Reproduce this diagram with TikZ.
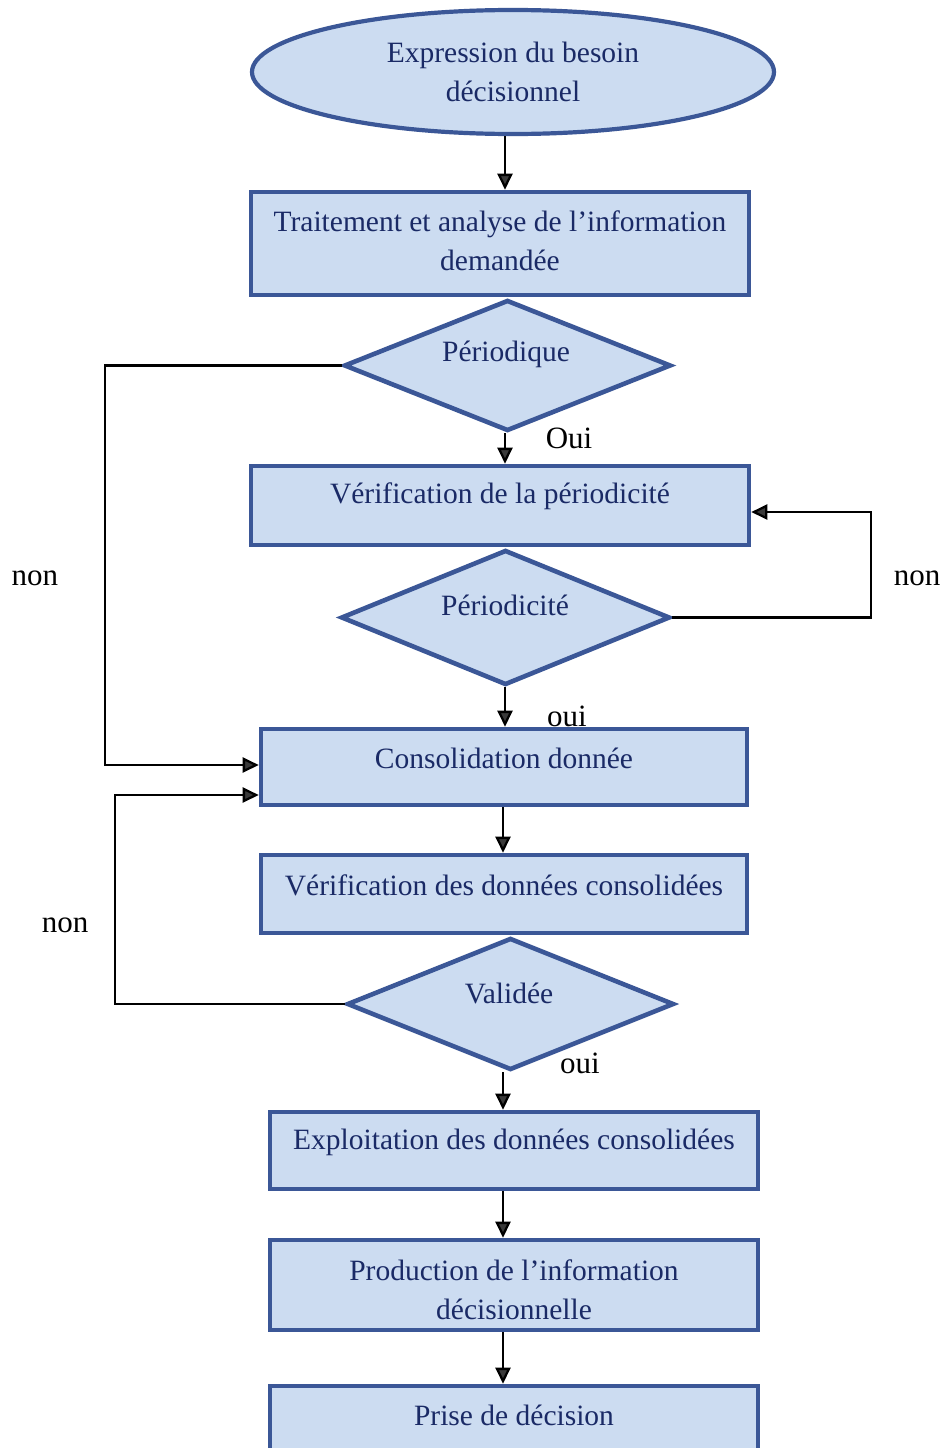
\documentclass[tikz,border=0pt]{standalone}
\usepackage{fontspec}
\setmainfont{Liberation Serif}
\usetikzlibrary{shapes.geometric,arrows.meta}
\definecolor{boxfill}{HTML}{CCDCF1}
\definecolor{boxline}{HTML}{3B5797}
\definecolor{boxtext}{HTML}{1A2A66}
\definecolor{tipgray}{HTML}{3A3A3A}
\begin{document}
\begin{tikzpicture}[x=1pt,y=-1pt,
 shapebox/.style={draw=boxline,fill=boxfill,line width=4.6pt,rectangle,inner sep=0pt},
 ovalbox/.style={draw=boxline,fill=boxfill,line width=4.2pt,ellipse,inner sep=0pt},
 decbox/.style={draw=boxline,fill=boxfill,line width=4.6pt,diamond,inner sep=0pt},
 txt/.style={text=boxtext,font=\fontsize{29.5}{39}\selectfont,align=center,inner sep=0pt},
 lbl/.style={text=black,font=\fontsize{31}{36}\selectfont,inner sep=0pt},
 arr/.style={draw=black,line width=2.3pt,-{Triangle[length=16pt,width=15pt,fill=tipgray]}}
]
\fill[white] (0,0) rectangle (945,1448);
\useasboundingbox (0,0) rectangle (945,1448);
\clip (0,0) rectangle (945,1448);

% labels (drawn first so boxes may cover them)
\node[lbl] (lOui) at (569,438) {Oui};
\node[lbl] (lnonR) at (917,578) {non};
\node[lbl] (loui2) at (567,716) {oui};
\node[lbl] (lnonL) at (35,578) {non};
\node[lbl] (lnonL2) at (65,925) {non};
\node[lbl] (loui3) at (580,1063) {oui};

% shapes
\node[ovalbox, minimum width=522pt, minimum height=124pt] (e) at (513,72) {};
\node[shapebox, minimum width=498pt, minimum height=103pt] (b1) at (500,243.5) {};
\node[decbox, minimum width=327pt, minimum height=131pt] (d1) at (507.5,365.5) {};
\node[shapebox, minimum width=498pt, minimum height=79pt] (b2) at (500,505.5) {};
\node[decbox, minimum width=329pt, minimum height=135pt] (d2) at (505.5,617.5) {};
\node[shapebox, minimum width=486pt, minimum height=76pt] (b3) at (504,767) {};
\node[shapebox, minimum width=486pt, minimum height=78pt] (b4) at (504,894) {};
\node[decbox, minimum width=327pt, minimum height=132pt] (d3) at (510.5,1004) {};
\node[shapebox, minimum width=488pt, minimum height=77pt] (b5) at (514,1150.5) {};
\node[shapebox, minimum width=488pt, minimum height=90pt] (b6) at (514,1285) {};
\node[shapebox, minimum width=488pt, minimum height=108pt] (b7) at (514,1440) {};

% texts
\node[txt] (te) at (513,72) {Expression du besoin\\décisionnel};
\node[txt] (t1) at (500,240.5) {Traitement et analyse de l’information\\demandée};
\node[txt] (td1) at (506,354) {Périodique};
\node[txt] (t2) at (500,496) {Vérification de la périodicité};
\node[txt] (td2) at (505,605) {Périodicité};
\node[txt] (t3) at (504,758) {Consolidation donnée};
\node[txt] (t4) at (504,885) {Vérification des données consolidées};
\node[txt] (td3) at (509,993) {Validée};
\node[txt] (t5) at (514,1142) {Exploitation des données consolidées};
\node[txt] (t6) at (514,1289.5) {Production de l’information\\décisionnelle};
\node[txt] (t7) at (514,1415) {Prise de décision};

% connectors
\coordinate (xa) at (505,0);
\coordinate (xb) at (503,0);
\draw[arr] (e.south -| xa) -- (b1.north -| xa);
\draw[arr] (d1.south -| xa) -- (b2.north -| xa);
\draw[arr] (d2.south -| xa) -- (b3.north -| xa);
\draw[arr] (b3.south -| xb) -- (b4.north -| xb);
\draw[arr] (d3.south -| xb) -- (b5.north -| xb);
\draw[arr] (b5.south -| xb) -- (b6.north -| xb);
\draw[arr] (b6.south -| xb) -- (b7.north -| xb);

\coordinate (L1) at (105,765);
\coordinate (R1) at (871,512);
\coordinate (L2) at (115,795);
\draw[arr] (d1.west) -| (L1) -- (L1 -| b3.west);
\draw[arr] (d2.east) -| (R1) -- (R1 -| b2.east);
\draw[arr] (d3.west) -| (L2) -- (L2 -| b3.west);
\end{tikzpicture}
\end{document}
